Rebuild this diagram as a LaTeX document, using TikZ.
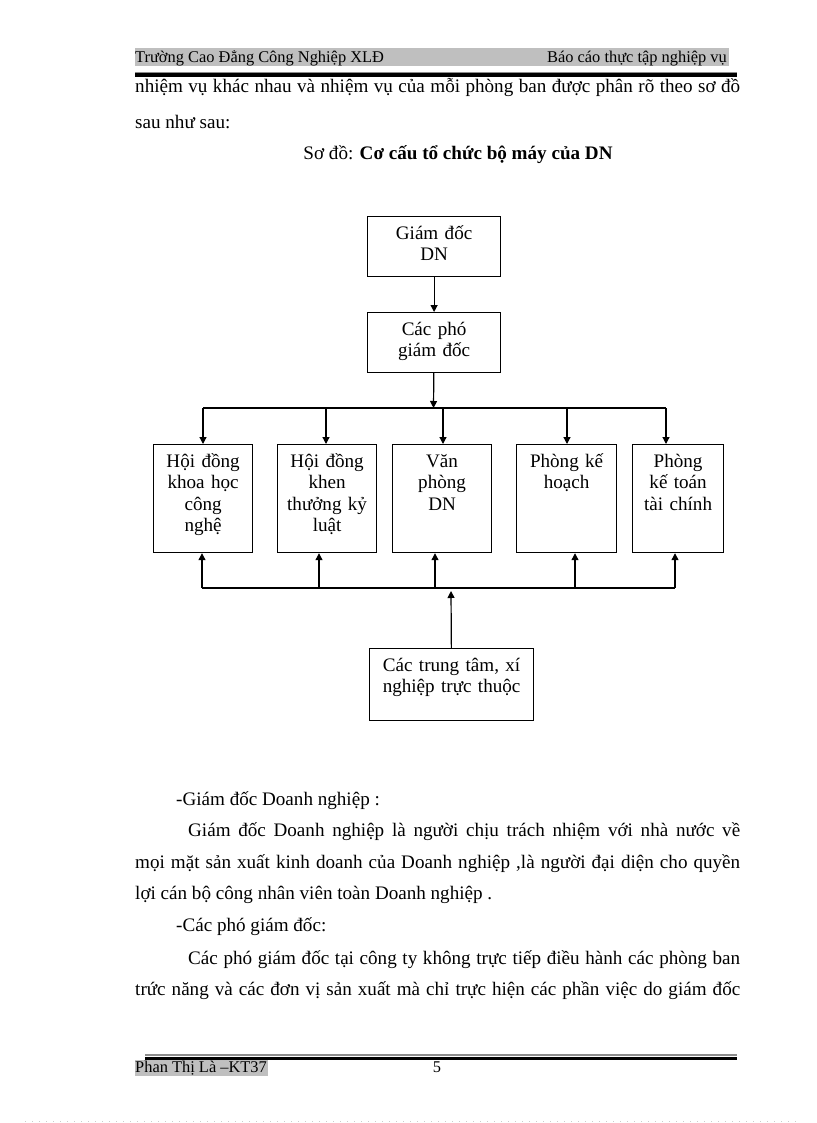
\documentclass[tikz,border=0pt]{standalone}
\usepackage{fontspec}
\setmainfont{Liberation Serif}
\usetikzlibrary{arrows.meta}
\newcommand{\bodysize}{\fontsize{19.1}{21.3}\selectfont}
\newcommand{\headsize}{\fontsize{16.4}{18}\selectfont}
\newcommand{\jline}[2]{\makebox[#1][s]{#2}}

\begin{document}
\begin{tikzpicture}
	[x=1pt, y=-1pt,
	box/.style={draw, line width=1.2pt, inner sep=0pt, align=center, font=\bodysize, text height=23pt, anchor=north west},
	link/.style={line width=1.2pt, -{Triangle[length=7pt,width=7pt]}},
	wire/.style={line width=1.2pt},
	txt/.style={inner sep=0pt, anchor=base west, font=\bodysize},
	head/.style={inner sep=0pt, anchor=base west, font=\headsize}]
	\useasboundingbox (0,0) rectangle (816,1123);
	\fill[black!25] (135,48) rectangle (729,66.5);
	\node[head] (hl) at (135,62.5) {Trường  Cao Đẳng  Công  Nghiệp  XLĐ};
	\node[head, anchor=base east] (hr) at (727,62.5) {Báo cáo thực tập nghiệp  vụ};
	\draw[black!45, line width=1pt] (135,72.5) -- (737,72.5);
	\draw[line width=4pt] (135,75.5) -- (737,75.5);
	\node[txt] (l1) at (135,93) {\jline{605pt}{nhiệm vụ khác nhau và nhiệm vụ của mỗi phòng ban được phân rõ theo sơ đồ}};
	\node[txt] (l2) at (135,129) {sau như sau:};
	\node[txt, anchor=base] (title) at (458,160) {Sơ đồ: \textbf{Cơ cấu tổ chức bộ máy của DN}};
	\node[box, text width=133pt, text depth=37pt] (gd) at (367,216) {Giám đốc\\DN};
	\node[box, text width=133pt, text depth=37pt] (pgd) at (367,312) {Các phó\\giám đốc};
	\node[box, text width=99pt, text depth=85pt] (hd1) at (153,444) {Hội đồng\\khoa học\\công\\nghệ};
	\node[box, text width=99pt, text depth=85pt] (hd2) at (277,444) {Hội đồng\\khen\\thưởng kỷ\\luật};
	\node[box, text width=99pt, text depth=85pt] (vp) at (392,444) {Văn\\phòng\\DN};
	\node[box, text width=100pt, text depth=85pt] (kh) at (516,444) {Phòng kế\\hoạch};
	\node[box, text width=91pt, text depth=85pt] (kt) at (632,444) {Phòng\\kế toán\\tài chính};
	\node[box, text width=164pt, text depth=49pt] (tt) at (369,648) {Các trung tâm, xí\\nghiệp trực thuộc};
	\draw[link] (gd) -- (pgd);
	\coordinate (tb) at (433.5,408);
	\coordinate (tl) at (203,408);
	\coordinate (tr) at (666,408);
	\coordinate (bl) at (202,588);
	\coordinate (br) at (675,588);
	\coordinate (bb) at (451,591);
	\draw[link] (pgd) -- (tb);
	\draw[wire] (tl) -- (tr);
	\foreach \n/\x in {hd1/203, hd2/326, vp/443, kh/567, kt/666}
		\draw[link] (\x,0 |- tl) -- (\x,0 |- \n.north);
	\draw[wire] (bl) -- (br);
	\foreach \n/\x in {hd1/202, hd2/319, vp/435, kh/575, kt/675}
		\draw[link] (\x,0 |- bl) -- (\x,0 |- \n.south);
	\draw[link] (tt) -- (bb);
	\node[txt] (l3) at (176,805) {-Giám đốc Doanh nghiệp :};
	\node[txt] (l4) at (188,836) {\jline{552pt}{Giám đốc Doanh nghiệp  là người chịu trách nhiệm với nhà nước về}};
	\node[txt] (l5) at (135,868) {\jline{605pt}{mọi mặt  sản xuất kinh doanh của Doanh nghiệp ,là người đại diện cho quyền}};
	\node[txt] (l6) at (135,899) {lợi cán bộ công nhân viên toàn  Doanh nghiệp .};
	\node[txt] (l7) at (176,931) {-Các phó giám  đốc:};
	\node[txt] (l8) at (188,964) {\jline{552pt}{Các phó giám  đốc tại công ty không trực tiếp điều hành các phòng ban}};
	\node[txt] (l9) at (135,995) {\jline{605pt}{trức năng và các đơn vị sản xuất mà chỉ trực hiện các phần việc do giám đốc}};
	\draw[black!45, line width=1.5pt] (145,1055) -- (737,1055);
	\draw[line width=2.5pt] (145,1058.5) -- (737,1058.5);
	\fill[black!25] (135,1060) rectangle (268,1076);
	\node[head] (ft) at (135,1072) {Phan Thị  Là –KT37};
	\node[head, anchor=base] (pg) at (437,1072) {5};
	\draw[black!20, line width=1pt, dash pattern=on 1pt off 6pt] (25,1121) -- (800,1121);
\end{tikzpicture}
\end{document}
